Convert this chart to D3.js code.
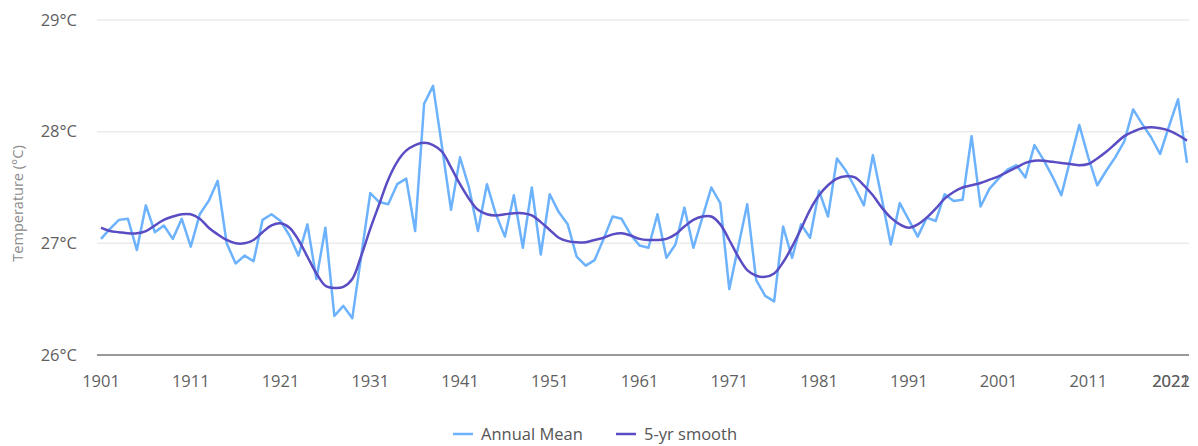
<!DOCTYPE html>
<html>
<head>
<meta charset="utf-8">
<script src="https://cdn.jsdelivr.net/npm/d3@7"></script>
<style>
  body { margin: 0; background: #fff; }
  text { font-family: "Open Sans", sans-serif; }
</style>
</head>
<body>
<svg id="chart" width="1198" height="446"></svg>
<script>
// data
const years = d3.range(1901, 2023)

const annualMean = [
  27.04, 27.13, 27.21, 27.22, 26.94, 27.34, 27.10, 27.16, 27.04, 27.22,
  26.97, 27.26, 27.38, 27.56, 27.00, 26.82, 26.89, 26.84, 27.21, 27.26,
  27.20, 27.07, 26.89, 27.17, 26.68, 27.14, 26.35, 26.44, 26.33, 26.89,
  27.45, 27.37, 27.35, 27.53, 27.58, 27.11, 28.25, 28.41, 27.86, 27.30,
  27.77, 27.50, 27.11, 27.53, 27.26, 27.06, 27.43, 26.96, 27.50, 26.90,
  27.44, 27.28, 27.17, 26.88, 26.80, 26.85, 27.04, 27.24, 27.22, 27.08,
  26.98, 26.96, 27.26, 26.87, 26.99, 27.32, 26.96, 27.23, 27.50, 27.36,
  26.59, 26.97, 27.35, 26.67, 26.53, 26.48, 27.15, 26.87, 27.17, 27.05,
  27.47, 27.24, 27.76, 27.65, 27.50, 27.34, 27.79, 27.40, 26.99, 27.36,
  27.21, 27.06, 27.23, 27.20, 27.44, 27.38, 27.39, 27.96, 27.33, 27.49,
  27.58, 27.66, 27.70, 27.59, 27.88, 27.75, 27.60, 27.43, 27.75, 28.06,
  27.77, 27.52, 27.65, 27.77, 27.91, 28.20, 28.07, 27.95, 27.80, 28.05,
  28.29, 27.72
]

const smooth5yr = [
  27.14, 27.11, 27.10, 27.09, 27.09, 27.11, 27.16, 27.21, 27.24, 27.26,
  27.26, 27.22, 27.14, 27.08, 27.03, 27.00, 27.00, 27.03, 27.10, 27.16,
  27.18, 27.14, 27.03, 26.88, 26.73, 26.62, 26.60, 26.61, 26.68, 26.89,
  27.13, 27.35, 27.57, 27.73, 27.83, 27.88, 27.90, 27.88, 27.82, 27.68,
  27.53, 27.40, 27.30, 27.26, 27.25, 27.26, 27.27, 27.27, 27.25, 27.19,
  27.12, 27.05, 27.02, 27.01, 27.01, 27.03, 27.05, 27.08, 27.09, 27.07,
  27.04, 27.03, 27.03, 27.04, 27.08, 27.15, 27.21, 27.24, 27.24, 27.17,
  27.03, 26.88, 26.76, 26.71, 26.70, 26.73, 26.83, 26.97, 27.13, 27.30,
  27.43, 27.52, 27.58, 27.60, 27.59, 27.52, 27.43, 27.32, 27.23, 27.17,
  27.14, 27.17, 27.23, 27.31, 27.40, 27.46, 27.50, 27.52, 27.54, 27.57,
  27.60, 27.64, 27.68, 27.72, 27.74, 27.74, 27.73, 27.72, 27.71, 27.70,
  27.71, 27.76, 27.82, 27.89, 27.96, 28.00, 28.03, 28.04, 28.03, 28.01,
  27.97, 27.92
]

const yTicks = [26, 27, 28, 29]
const xTickYears = [1901, 1911, 1921, 1931, 1941, 1951, 1961, 1971, 1981, 1991, 2001, 2011, 2021, 2022]

const seriesNames = ['Annual Mean', '5-yr smooth']
const colors = ['#6cb2fc', '#5a4dc4']

const svg = d3.select('#chart')
const width = +svg.attr('width')
const height = +svg.attr('height')

const margin = { top: 20, right: 11, bottom: 91, left: 101 }

const xScale = d3.scaleLinear()
  .domain([1901, 2022])
  .range([margin.left, width - margin.right])

const yScale = d3.scaleLinear()
  .domain([26, 29])
  .range([height - margin.bottom, margin.top])

// gridlines
svg.append('g')
  .selectAll('line').data(yTicks.filter(t => t > 26))
  .enter().append('line')
    .attr('x1', margin.left - 4)
    .attr('x2', width - margin.right + 2)
    .attr('y1', d => yScale(d))
    .attr('y2', d => yScale(d))
    .attr('stroke', '#ebebeb')
    .attr('stroke-width', 1.5)

// y tick labels
svg.append('g')
  .selectAll('text').data(yTicks)
  .enter().append('text')
    .attr('x', margin.left - 24)
    .attr('y', d => yScale(d))
    .attr('dy', '0.35em')
    .attr('text-anchor', 'end')
    .attr('fill', '#5f5f5f')
    .attr('font-size', 16.5)
    .text(d => d + '°C')

// y axis title
svg.append('text')
  .attr('transform', `translate(23,${(margin.top + height - margin.bottom) / 2 + 16}) rotate(-90)`)
  .attr('text-anchor', 'middle')
  .attr('fill', '#8a8a8a')
  .attr('font-size', 14.5)
  .text('Temperature (°C)')

// x axis baseline
svg.append('line')
  .attr('x1', margin.left - 4)
  .attr('x2', width - margin.right + 2)
  .attr('y1', yScale(26))
  .attr('y2', yScale(26))
  .attr('stroke', '#777')
  .attr('stroke-width', 1.5)

// x tick labels, last ones clamped to the right edge
const rightLimit = width - 8
svg.append('g')
  .selectAll('text').data(xTickYears)
  .enter().append('text')
    .attr('x', d => Math.min(xScale(d), rightLimit - 19))
    .attr('y', yScale(26) + 32)
    .attr('text-anchor', 'middle')
    .attr('fill', '#5f5f5f')
    .attr('font-size', 16.5)
    .text(d => d)

const line = d3.line()
  .x((d, i) => xScale(years[i]))
  .y(d => yScale(d))

svg.append('path')
  .datum(annualMean)
  .attr('fill', 'none')
  .attr('stroke', colors[0])
  .attr('stroke-width', 2.5)
  .attr('stroke-linejoin', 'round')
  .attr('d', line)

svg.append('path')
  .datum(smooth5yr)
  .attr('fill', 'none')
  .attr('stroke', colors[1])
  .attr('stroke-width', 2.5)
  .attr('d', line.curve(d3.curveCatmullRom))

// legend
const legendX = [453, 616]
const legend = svg.append('g')
  .selectAll('g').data(seriesNames)
  .enter().append('g')
    .attr('transform', (d, i) => `translate(${legendX[i]},434)`)

legend.append('line')
  .attr('x1', 0).attr('x2', 20)
  .attr('stroke', (d, i) => colors[i])
  .attr('stroke-width', 2.5)

legend.append('text')
  .attr('x', 28)
  .attr('dy', '0.35em')
  .attr('fill', '#555')
  .attr('font-size', 16.5)
  .text(d => d)
</script>
</body>
</html>
